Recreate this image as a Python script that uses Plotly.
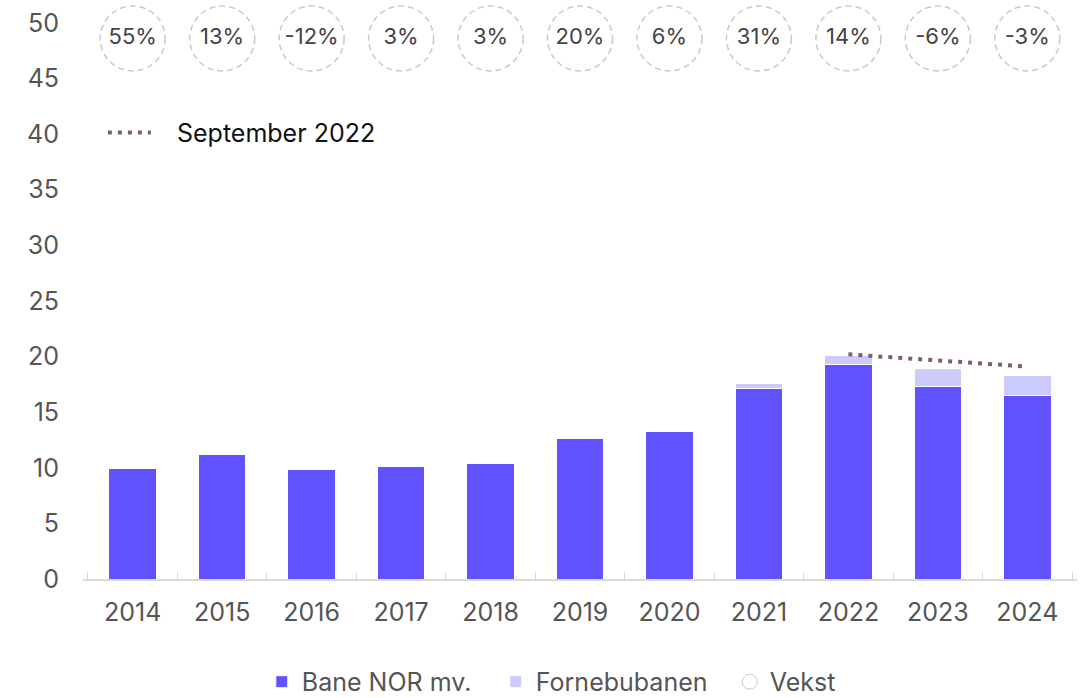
import plotly.graph_objects as go

years = ["2014", "2015", "2016", "2017", "2018", "2019", "2020", "2021", "2022", "2023", "2024"]
bane_nor = [9.9, 11.2, 9.85, 10.1, 10.4, 12.6, 13.3, 17.15, 19.3, 17.3, 16.5]
fornebubanen = [0, 0, 0, 0, 0, 0, 0, 0.45, 0.8, 1.6, 1.8]
vekst = ["55%", "13%", "-12%", "3%", "3%", "20%", "6%", "31%", "14%", "-6%", "-3%"]
sept_years = ["2022", "2023", "2024"]
sept_2022 = [20.2, 19.65, 19.1]

FONT = "Inter"
BLUE = "#6052ff"
LIGHT = "#cdcbfb"
CIRCLE = "#c9c8d6"
VEKST_Y = 48.6

fig = go.Figure()

fig.add_trace(go.Bar(
    x=years, y=bane_nor, name="Bane NOR mv.",
    marker=dict(color=BLUE, line=dict(color="white", width=1)),
    legend="legend",
))
fig.add_trace(go.Bar(
    x=years, y=fornebubanen, name="Fornebubanen",
    marker=dict(color=LIGHT, line=dict(color="white", width=1)),
    legend="legend",
))

# growth labels inside dashed circles
fig.add_trace(go.Scatter(
    x=years, y=[VEKST_Y] * len(years), text=vekst, mode="text",
    textfont=dict(family=FONT, size=22, color="#444444"),
    showlegend=False, hoverinfo="skip", cliponaxis=False,
))
fig.add_trace(go.Scatter(
    x=[None], y=[None], mode="markers", name="Vekst",
    marker=dict(symbol="circle-open", size=15, color=CIRCLE, line=dict(width=1)),
    legend="legend",
))
for i, yr in enumerate(years):
    fig.add_shape(
        type="circle", xref="x", yref="y",
        xsizemode="pixel", ysizemode="pixel",
        xanchor=i, yanchor=VEKST_Y,
        x0=-32.5, x1=32.5, y0=-32.5, y1=32.5,
        line=dict(color=CIRCLE, width=1.5, dash="6px,4px"),
        layer="below",
    )

fig.add_trace(go.Scatter(
    x=sept_years, y=sept_2022, mode="lines", name="\u00a0\u00a0\u00a0September 2022",
    line=dict(color="#7f6068", width=4, dash="4px,6px"),
    legend="legend2",
))

fig.update_layout(
    width=1087, height=698,
    barmode="stack", bargap=0.47,
    plot_bgcolor="white", paper_bgcolor="white",
    font=dict(family=FONT, size=25, color="#555555"),
    margin=dict(l=83, r=10, t=4, b=119, autoexpand=False),
    legend=dict(
        orientation="h", x=0.533, xanchor="center", y=-0.179, yanchor="middle",
        font=dict(size=25, color="#555555"), traceorder="normal",
        itemwidth=30, entrywidth=189, entrywidthmode="pixels",
    ),
    legend2=dict(
        x=0.020, y=0.776, xanchor="left", yanchor="middle",
        font=dict(size=25, color="#111111"), bgcolor="rgba(0,0,0,0)",
        itemwidth=43,
    ),
    showlegend=True,
)
fig.update_xaxes(
    type="category", automargin=False,
    showline=True, linecolor="#d9d9d9", linewidth=2,
    ticks="inside", tickson="boundaries", ticklen=7, tickcolor="#d9d9d9",
    tickfont=dict(size=25, color="#555555"), ticklabelstandoff=10,
    showgrid=False,
)
fig.update_yaxes(
    automargin=False,
    range=[0, 51.7], tickvals=[0, 5, 10, 15, 20, 25, 30, 35, 40, 45, 50],
    showgrid=False, zeroline=False, showline=False,
    tickfont=dict(size=25, color="#555555"), ticklabelstandoff=23,
)

# the page's default body margin would shift the chart by 8px
fig.write_html(
    "out.html",
    config={"displayModeBar": False},
    post_script="document.body.style.margin='0';",
)
